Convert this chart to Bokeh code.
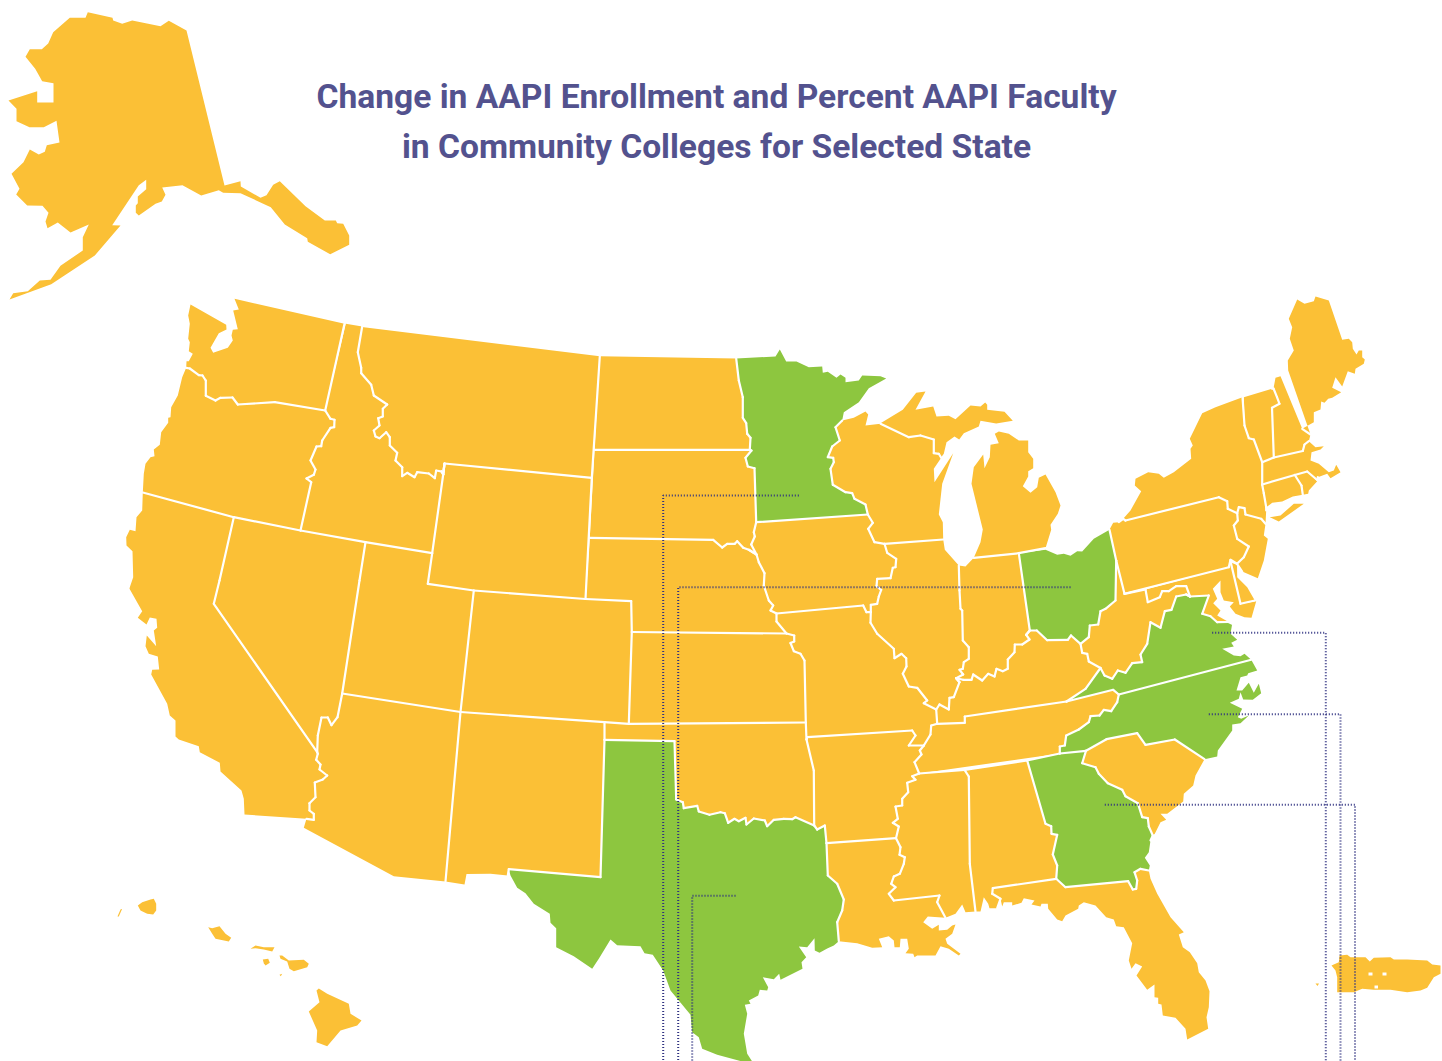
from bokeh.plotting import figure
from bokeh.models import Range1d
from bokeh.core.properties import value
from bokeh.embed import file_html
from bokeh.resources import INLINE
import math

TITLE_LINES = ["Change in AAPI Enrollment and Percent AAPI Faculty", "in Community Colleges for Selected State"]
TITLE_X = [716, 716]
TITLE_Y = [96, 146]

# ---------- shared borders ----------
b_WA_OR = [(185.7,367.3),(189.3,368),(198.3,374.7),(202,375),(205.3,380),(205.3,395.3),(215,400),(220,397.3),(232,397),(237.3,404),(274.3,401.7),(324.7,410)]
b_OR_ID = [(324.7,410),(330,418.3),(334,419.3),(333.7,426.7),(330,427.3),(321.7,440),(320.7,445.7),(316,446),(310,460),(315,469),(313.3,474.3),(306,478),(310.7,481.7),(300,530)]
b_ID_MT = [(361.7,326),(357.3,351.7),(360.7,367.3),(360.7,372.7),(370.7,384.3),(373.3,395),(386.7,404),(382.3,408.3),(382.3,416),(377.7,417.7),(379,425),(373.3,430),(375,436),(379,437.7),(385.7,431.7),(389.3,436.7),(389.3,445),(396.7,452.3),(395,460),(401.7,466.7),(401.7,475.7),(406.7,472.3),(414,476.7),(416.7,471.7),(428.3,473),(434.3,477.7),(435.7,470),(441,471),(442.7,474),(444,463)]
b_CA_AZ = [(316.7,751.7),(317.3,753.3),(315.7,759.3),(320,764),(319,769),(326.7,775),(322.3,779),(314.3,782),(315,796.7),(309,802.7),(309,810),(313.3,813.3),(313.3,819.3),(306,818.3)]
b_NV_AZ = [(341.7,693),(337,716.7),(331,724.7),(327.3,717),(321,717),(317.3,735),(316.7,751.7)]
b_ND_MN = [(735.7,358),(738.3,380),(742.3,396.7),(742.3,417.3),(745.7,422.7),(746.7,433.3),(750,437.3),(749.3,449.3)]
b_SD_MN = [(749.3,449.3),(751,450),(745,457.3),(747.3,466),(754,467.7),(755.7,521.7)]
b_SD_IA = [(755.7,521.7),(753.3,531.7),(754.3,536),(750.7,544),(756,554)]
b_SD_NE = [(756,554),(748.3,549.3),(742.7,547.3),(736.7,540.7),(734.3,543.3),(726.7,543.3),(721.7,547),(712.7,539.3),(589.3,537.3)]
b_NE_IA = [(756,554),(758.3,561.7),(764,572.7),(763.3,585),(768.3,600),(772.7,605),(770,610),(776,613)]
b_NE_MO = [(776,613),(776,621),(786,633)]
b_KS_MO = [(786,633),(793.7,635),(793.7,641),(790,642.5),(793.3,650.7),(800,653.3),(804,660),(805.3,722)]
b_OK_TX = [(813.7,825),(795,816.7),(791.7,818.7),(783.3,818.3),(773.3,819.3),(766.7,825.7),(764.3,820),(753.3,818),(746,824),(745,817.3),(738.3,820.7),(734,818.3),(727.7,822.3),(724.3,812.7),(720,811.7),(709,814.3),(698.3,811),(696.7,805.3),(683.3,807.7),(682.3,801.7),(675.7,799),(674,740.7),(604,739.3)]
b_AR_TX = [(824.3,825),(816.7,829),(813.7,825)]
b_OK_AR = [(813.7,825),(813.3,770),(806,739)]
b_TX_LA = [(826,842.7),(827.3,875),(836.7,883.3),(843.3,899),(841.7,910),(836.7,921.7),(838.3,940.7)]
b_MN_WI = [(841.7,420),(835,426.7),(839.3,440),(831.7,446),(827.3,456.7),(832.7,457.3),(833.3,461.7),(830,468.3),(832.3,484.3),(845,491.7),(851.7,492.7),(854,498.3),(865,504),(867.3,514)]
b_IA_WI = [(867.3,514),(872.3,522.3),(867.7,528.3),(874,541.7),(884,543.3)]
b_IA_IL = [(884,543.3),(886.7,552.3),(895.7,558.3),(895,566.7),(892.3,567.3),(890,577.7),(876.7,578.3),(876,585.7),(880.7,589.3),(878.3,596),(876.7,603.3),(870.3,604.3)]
b_IA_MO = [(870.3,604.3),(870.3,611.7),(866,611.7),(862.7,605),(776,613)]
b_IL_MO = [(870.3,611.7),(870,622.3),(876.7,633.3),(893.3,648.3),(894,657.7),(901,653.3),(905.7,657.7),(906,666),(902.3,673.3),(908.3,686),(916.7,687.3),(926.7,700),(923.3,702.7),(935.7,709)]
b_IL_KY = [(935.7,709),(939,704),(948.3,709),(949,697.3),(953.3,696.7),(959,681.7),(955.7,677.7)]
b_IL_IN = [(942.7,539),(944.3,549.3),(958.3,565),(959,590),(960,608.3),(961.7,610),(962.3,640),(968.3,646.7),(968.3,658.3),(963.3,661.7),(962.3,668.3),(959,669.3),(962.7,674),(955.7,677.7)]
b_IN_KY = [(955.7,677.7),(962.7,679.3),(971,679.3),(972.7,674),(981.7,680),(987.7,673.3),(994,676),(996,668.3),(1002.3,670.7),(1007.3,668.3),(1007.3,659),(1014,651.7),(1014.3,644),(1021.7,644),(1029,639),(1025.7,634.3),(1029.3,630)]
b_OH_KY = [(1029.3,630),(1036.3,630),(1046.7,639.7),(1067.3,639.3),(1070.5,635),(1080,643.3)]
b_MO_TN = [(935.7,709),(936.7,723.3),(930.7,725),(930,734),(923.3,745)]
b_MO_AR = [(923.3,745),(908.3,745),(915,735),(911.7,730),(806.7,736.7),(806,739)]
b_TN_AR = [(923.3,745),(919.3,750),(921,754),(914,761.7),(918.7,773)]
b_MS_AR = [(918.7,773),(911.7,775.7),(915,779.3),(906.7,782.3),(907.7,791.7),(901.7,798.3),(901.7,805),(895,806),(897.3,818.3),(892.3,822.3),(898.3,826),(895.5,837.7)]
b_MS_LA = [(895.5,837.7),(900,846.7),(899,854.3),(904.3,856.7),(903.3,863.3),(899.3,873.3),(893.3,876),(890.7,883.3),(895,886.7),(888.3,893.3),(893.3,900),(939,895),(936.7,901.7),(945,917.3)]
b_AL_GA = [(1026.7,760),(1045,823.3),(1050.7,825.7),(1051,833.3),(1056.7,834.3),(1052.3,854),(1056.7,865),(1055.7,878.3)]
b_GA_FL = [(1055.7,878.3),(1065,886.7),(1127.7,880.7),(1132.3,889),(1135.7,888.3),(1136.7,880),(1134,871.7),(1140,868.3),(1148.3,870)]
b_AL_FL = [(1055.7,878.3),(992.3,887.7),(991.7,893.3),(1000,898.3)]
b_GA_SC = [(1085.5,750.3),(1081.7,762.7),(1095,766.7),(1098.3,773.3),(1107.3,782.7),(1121.7,789.3),(1125,795.7),(1137.3,802.7),(1141.7,816.7),(1147.3,817.7),(1148.3,826),(1152.3,835)]
b_NC_SC = [(1085.5,750.3),(1106,738.7),(1136.7,732.7),(1145,744.3),(1174.3,739),(1204,758.7)]
b_TN_NC = [(1118.3,694),(1116.7,701.7),(1110.7,710.7),(1103.3,709.3),(1099,715),(1090,715.7),(1088.3,721.7),(1078.3,729),(1065.7,735),(1064.3,745),(1059.3,746),(1059.3,753)]
b_VA_TN = [(1066,701),(1112.7,689.3),(1118.3,694)]
b_KY_VA = [(1066,701),(1085,688.3),(1100,667.5)]
b_KY_WV = [(1100,667.5),(1088.3,661),(1086.7,653.3),(1081.7,652.3),(1080,643.3)]
b_OH_WV = [(1080,643.3),(1088.3,636.7),(1089.3,625),(1097.7,624),(1100,610.7),(1105,608.3),(1115,600),(1115.7,560)]
b_OH_PA = [(1115.7,560),(1109,529.3)]
b_VA_WV = [(1100,667.5),(1104,675),(1111.7,678.3),(1117.3,670),(1125,672.3),(1131.7,662.7),(1141.7,661.7),(1140,654),(1146.7,643.3),(1150,621.7),(1160,627.3),(1164.3,610.7),(1171,609.3),(1175.7,596),(1185.7,594),(1189.5,596)]
b_MD_WV = [(1145,589),(1147.3,601.7),(1159.3,596.7),(1161.7,590.7),(1168.3,590.7),(1175.7,585.7),(1185.7,585.7),(1189.5,596)]
b_MD_VA = [(1189.5,596),(1208.3,595),(1201.7,613.3),(1210,615.7),(1216.7,621.7),(1228,621.5)]
b_PA_NY = [(1125,520),(1218.3,496.7),(1226.7,500.7),(1227.3,508.3),(1236.7,512.7)]
b_PA_NJ = [(1236.7,512.7),(1237.3,520),(1233.3,525),(1236.7,538.3),(1248.3,546),(1243.3,556.7),(1236.5,563.3)]
b_NY_NJ = [(1236.7,512.7),(1238.3,506.7),(1244,507.7),(1245,514),(1260.7,518.3),(1265,523.3)]
b_NY_CT = [(1265.7,506.7),(1263.3,492.7),(1261.7,484.3)]
b_NY_MA = [(1261.7,484.3),(1261.7,461.7)]
b_NY_VT = [(1261.7,461.7),(1253.3,439),(1248.3,437.7),(1244,425),(1242,396.7)]
b_VT_NH = [(1273.3,457),(1271.5,407.3),(1279,403.3),(1276.5,396.7),(1273,388)]
b_NH_ME = [(1282,372),(1301.7,428.3),(1310,434)]
b_MA_NH = [(1308.3,440.7),(1304,444),(1302.3,450.5),(1273.3,457)]
b_MA_CT = [(1261.7,484),(1294.3,474.5)]

# ---------- states ----------
AK = [(87.3,11.7),(112,17.3),(112.7,20),(121.7,23.3),(131.7,20),(160,25.7),(168.3,20.3),(186,30),(224,185),(240,180.7),(240.3,186),(260,197.3),(266,194.7),(272.7,184.3),(279.3,180.7),(305,205.7),(324.3,220),(335.3,220),(336.7,222.7),(342.7,223.3),(348.7,235),(348.7,244.3),(329.7,253.7),(307.3,241.3),(306.7,237.7),(284.3,224),(270.3,206.7),(240,192.7),(222.7,192.3),(218.3,189.7),(200.7,195),(182,184.7),(161.7,187),(165,194.3),(161.3,201),(155,203.3),(138.3,215),(135.3,212.3),(135.3,205),(137.3,202.7),(137.3,196),(145.7,188.7),(145.7,179.3),(138.3,184.7),(111.7,224.7),(120,225),(94.3,255),(50.7,283.7),(9,299),(12.7,292.7),(27.3,290.7),(39.3,280),(50,279.3),(60,265.3),(82.3,250),(82.3,236.7),(88.3,224),(70,232),(57.3,222),(47,227.7),(45,221),(48,212.3),(42,205.3),(26.7,205),(15.7,194),(19,188.3),(11,173.3),(23,161.7),(29.3,149),(38.3,154),(44.3,151.3),(46.3,144.7),(59,142),(56,120.3),(43.3,126.7),(29,126.7),(16,120.7),(16,108.3),(8,100),(36.7,90.7),(36.7,102),(53,102),(53,82.7),(41.7,80.7),(34.7,68.3),(25,56.3),(29.3,48.7),(41.3,48.7),(47.7,43),(52.7,31.7),(69.3,17.3),(85,17.3)]
WA = [(234,298.3),(344,323.3)] + b_WA_OR[::-1] + [(186,360.7),(188.3,360.7),(192.3,353.3),(188.3,350.7),(189.3,341.7),(187.7,338.3),(189.3,323.3),(187.7,315),(190,304),(225.7,324.3),(226,329),(218.3,332.7),(210,347.3),(212.7,352.3),(227.3,347.3),(232.3,340),(231,335),(232.3,329.3),(237.3,328.7),(232.7,310),(238.3,309)]
OR = b_WA_OR + b_OR_ID[1:] + [(233.3,516.7),(142.3,492),(143.3,473.3),(145,463.3),(150,456.7),(154,455.7),(153.3,449),(159.3,444.3),(160.7,431.7),(167.7,422.3),(167.7,417.3),(170,416.7),(170.7,406.7),(177.3,395),(181.7,376.7)]
ID = [(345.3,323.3)] + b_ID_MT + [(442.7,474),(431.7,552.7),(365,541.7),(300,530)] + b_OR_ID[::-1]
MT = [(363.3,326.7),(599.3,355.7),(591.3,477.3)] + b_ID_MT[::-1]
CA = [(142.3,492),(233.3,516.7),(219,580),(213.3,603.3)] + b_CA_AZ + [(244,814),(243.3,798.3),(241,790),(220,771),(219.3,762.3),(199.3,751.7),(198.3,745.7),(178.3,739),(175,736),(175,720),(169.3,715),(166.7,703.3),(150.7,674),(151.7,669.3),(158.7,669),(157.3,656),(148.3,653.3),(145,645.7),(146.3,635),(155.7,645.7),(153.3,630),(156.7,627.3),(156,618.3),(149.3,617),(146,624),(137.3,617.3),(141.7,610.7),(129,588.3),(129.3,586.7),(132.7,576.7),(132,550.7),(126,545),(125.7,536.7),(129.3,529.3),(135,530.7),(136,516.7),(141.7,510)]
NV = [(233.3,516.7),(300,530),(365,541.7),(359,580)] + b_NV_AZ + [(213.3,603.3),(219,580)]
AZ = [(341.7,693),(460,711.5),(445,881),(393.3,875.7),(303.3,827.3),(306,818.3)] + b_CA_AZ[::-1][1:] + b_NV_AZ[::-1][1:]
UT = [(365,541.7),(431.7,552.7),(427.3,583.3),(473.3,590),(460,711.5),(341.7,693)]
WY = [(444,463),(591.3,477.3),(585,598.5),(473.3,590),(427.3,583.3)]
CO = [(473.3,590),(585,598.5),(630.7,600.7),(631.3,631.5),(628.3,723.3),(604,721.7),(460,711.5)]
NM = [(460,711.5),(604,721.7),(604,739.3),(600,876.7),(508.3,868.7),(507.3,875),(490,873.3),(466,873.5),(464,884),(445,881)]
ND = [(599.3,355.7)] + b_ND_MN + [(594,449.3)]
SD = [(594,449.3)] + b_SD_MN + b_SD_IA[1:] + b_SD_NE[1:]
NE = [(589.3,537.3)] + b_SD_NE[::-1][1:] + b_NE_IA[1:] + b_NE_MO[1:] + [(631.3,631.5),(630.7,600.7),(585,598.5)]
KS = [(631.3,631.5)] + b_KS_MO + [(628.3,723.3)]
OK = [(604,721.7),(628.3,723.3),(805.3,722),(806,739)] + b_OK_AR[::-1][1:] + b_OK_TX[1:]
TX = b_OK_TX[::-1] + b_AR_TX[::-1][1:] + b_TX_LA + [(833.3,945),(826.7,948),(819,952.3),(814.3,950),(814,937.7),(806.7,946.7),(798.3,946),(805.7,956.7),(801,961.7),(802,968.3),(780,979.3),(778.7,973.3),(773.3,978.7),(762.3,976.7),(767.7,986.7),(766.7,990),(759.3,989.3),(757.7,995),(748.3,1000),(750,1003.3),(744.3,1004.3),(746.7,1013.3),(743.3,1033.3),(746.7,1053.3),(751.7,1061),(741.7,1061),(716.7,1054.3),(701.7,1048.3),(698.3,1036.7),(691.7,1031.7),(690,1014.3),(670,990),(662.7,970),(652.3,954.3),(644,952.7),(640,945.7),(616.7,944.7),(610,939),(598.3,958.3),(591.7,968.3),(573.3,955.7),(555.7,946.7),(555.7,927.7),(550,922.3),(549.3,913.3),(533.3,903.3),(525,892.7),(516.7,887.3),(510,875),(508.3,868.7),(600,876.7)]
MN = b_ND_MN + b_SD_MN[1:] + [(867.3,514)] + b_MN_WI[::-1][1:] + [(843.3,411.7),(858.3,401.7),(868.3,387.7),(885.7,378),(880,375.7),(861.7,375),(858.3,380),(845,381.7),(845,377.3),(840,374),(836,377.3),(827.3,371.3),(822.3,372.3),(821.7,366),(808.3,366.7),(796,361),(785.7,361),(779.3,349),(775,356)]
WI = b_MN_WI + b_IA_WI[1:] + [(942.7,539),(942.3,521.7),(938.3,514),(941.7,483.3),(952.7,452.7),(934,481.7),(933.3,468.3),(940.7,457.3),(938.3,453.3),(933.3,452.7),(933.3,439),(920,435),(908.3,436.7),(880,423.3),(865,425),(867.7,414),(865,411),(853.3,417.3)]
MI_UP = [(880,422.7),(902.3,409.3),(915.7,392.3),(925,391),(915,409.3),(932.7,406),(936,416),(948.3,415.3),(955,418.7),(970,405),(980,406),(984.7,402),(986.7,404.3),(986.7,409.3),(1004,411.3),(1012.3,420.3),(995.7,423),(980,420.3),(978.3,426),(963.3,432.7),(958.7,439),(954,436),(946,441.7),(943.3,453.3),(940.7,456.7),(938.3,453.3),(933.3,452.7),(933.3,439),(920,435),(908.3,436.7)]
MI_LP = [(998.3,431),(1008.3,433.3),(1018.3,440),(1027.7,440),(1027.7,451.7),(1032.7,458.3),(1032.7,467.7),(1027.7,470.7),(1027.7,476),(1022.3,485.7),(1030,492.3),(1036.7,486.7),(1038.3,477.3),(1045,474),(1055,491.7),(1060,505),(1057.3,513.3),(1050,524.3),(1050.7,529.3),(1045,547.7),(1018.3,552.7),(973.3,557.3),(980,541.7),(982.3,529),(971,483.3),(973.3,466.7),(982.7,454),(984,467.7),(989.3,456.7),(990,444.3),(998.3,442.7),(994.3,433.3)]
IA = [(755.7,521.7),(867.3,514)] + b_IA_WI[1:] + b_IA_IL[1:] + b_IA_MO[1:] + b_NE_IA[::-1][1:] + b_SD_IA[::-1][1:]
IL = [(884,543.3)] + b_IL_IN + b_IL_KY[::-1][1:] + b_IL_MO[::-1][1:] + b_IA_IL[::-1]
MO = b_IA_MO[::-1][:-1] + b_IL_MO[1:] + b_MO_TN[1:] + b_MO_AR[1:] + b_KS_MO[::-1] + b_NE_MO[::-1][1:]
AR = b_MO_AR[::-1][1:] + b_TN_AR + b_MS_AR[1:] + [(826,842.7)] + b_AR_TX + b_OK_AR[1:]
LA = [(826,842.7)] + b_MS_AR[-1:] + b_MS_LA[1:] + [(927.3,916),(922.7,921.7),(931.7,928.3),(938.3,924.3),(938.3,930),(946.7,929.3),(951.7,925),(955,924),(951.7,933.3),(945,938.3),(946.7,943.3),(960,953.3),(958.3,955),(948.3,948.3),(940,945.7),(935,955),(916.7,955),(914,956.7),(912.7,953.3),(905,952.7),(908.3,948.3),(906.7,938.3),(900,938.3),(899.3,946.7),(894,946.7),(893.3,940),(888.3,935.7),(878.3,938.3),(881.7,946.7),(871.7,947.3),(856.7,942.7)] + b_TX_LA[::-1]
MS = [(964,769.3),(968.3,776),(969.3,863.3),(975,911),(965,911.7),(961.7,904),(955,913.3)] + b_MS_LA[::-1] + b_MS_AR[::-1][1:]
AL = [(964,769.3),(1026.7,760)] + b_AL_GA[1:] + b_AL_FL[1:] + [(996.7,907.7),(989,907.7),(987.7,903.3),(983.3,896.7),(980,911),(975,911),(969.3,863.3),(968.3,776)]
FL = b_AL_FL[::-1] + b_GA_FL[1:] + [(1150,878.3),(1156.7,893.3),(1170,916.7),(1183.3,931.7),(1178.3,934),(1182.3,946.7),(1189.3,951.7),(1196.7,962.7),(1198.3,971.7),(1205,980),(1209,990.7),(1208.3,1006.7),(1206,1016.7),(1207.7,1028.3),(1186.7,1039),(1185,1028.3),(1175,1017.3),(1162.3,1015),(1161,1004),(1157.7,1003.3),(1157.7,997.3),(1154,996.7),(1154,984),(1146.7,989.3),(1136,975),(1141.7,966),(1135,962.7),(1131,968.3),(1128.3,960),(1131.7,942.7),(1123.3,926.7),(1115.7,925.7),(1113.3,919),(1105.7,916.7),(1095,905),(1083.3,901.7),(1078.3,905),(1077.7,908.3),(1065,915),(1061.7,920.7),(1056.7,919),(1047.7,908.3),(1047.3,903.3),(1041,903.3),(1040,906),(1031,904),(1034,900),(1023.3,897.7),(1021,902.3),(1011.7,905),(1011.7,901.7),(1003.3,901.7),(1001.7,906)]
GA = [(1026.7,760),(1059.3,753),(1085.5,750.3)] + b_GA_SC[1:] + [(1150,840),(1148.3,851.7),(1144.3,857.3),(1149.3,865)] + b_GA_FL[::-1][:-1] + b_AL_GA[::-1]
SC = b_NC_SC + [(1195,775),(1192.7,785),(1183.3,793.3),(1182.7,801),(1166.7,813.3),(1160,813.3),(1165.7,819.3),(1160,821.7),(1154.3,833.3)] + b_GA_SC[::-1]
NC = b_TN_NC[::-1][:-1] + [(1118.3,694),(1250.7,659.3),(1256.7,670),(1247.7,672.7),(1246.7,675),(1240,676.7),(1236,690),(1241.7,690),(1248.3,682.3),(1253.3,692.3),(1258.3,683.3),(1260.7,692.7),(1252.3,699.3),(1242.7,699),(1240,691.7),(1238.3,698.3),(1229.3,702.3),(1241.7,708.3),(1237.3,716.7),(1240.7,718.3),(1248.3,715),(1240,722.7),(1231.7,724),(1231.7,730),(1217.3,750),(1216.7,756)] + b_NC_SC[::-1] + [(1059.3,753)]
VA = b_VA_TN + [(1250.7,659.3),(1244,653.3),(1240,655.7),(1233.3,655),(1221.7,648.3),(1233.3,646),(1230.7,642.3),(1236.7,639.3),(1230,633.3),(1231.7,623.3)] + b_MD_VA[::-1] + b_VA_WV[::-1][1:] + b_KY_VA[::-1][1:]
KY = b_IN_KY + b_OH_KY[1:] + b_KY_WV[::-1][1:] + b_KY_VA[::-1][1:] + [(964.3,716),(964.3,722.3),(936.7,723.3),(935.7,709)] + b_IL_KY[1:]
TN = [(930.7,725),(936.7,723.3),(964.3,722.3),(964.3,716),(1066,701)] + b_VA_TN[1:] + b_TN_NC[1:] + [(918.7,773)] + b_TN_AR[::-1][1:] + [(930,734)]
IN = [(973.3,557.3),(1018.3,552.7),(1029.3,630)] + b_IN_KY[::-1][1:] + b_IL_IN[::-1][1:-2] + [(965,566)]
OH = [(1018.3,552.7),(1045,549.3),(1056.7,554.3),(1063.3,553.3),(1070,555.3),(1076.7,550.7),(1081.7,551),(1093.3,538.3),(1109,529.3),(1115.7,560)] + b_OH_WV[::-1][1:] + b_OH_KY[::-1][1:]
WV = [(1115.7,560),(1124,593.3),(1145,589)] + b_MD_WV[1:] + b_VA_WV[::-1][1:] + b_KY_WV[1:] + b_OH_WV[1:]
PA = [(1109,529.3),(1110,527.3),(1112.7,522.3),(1118.3,521.7),(1122.7,518.3)] + b_PA_NY + b_PA_NJ[1:] + [(1230,559.3),(1228.3,566.7),(1124,593.3),(1115.7,560)]
NY = b_PA_NY + b_NY_NJ[1:] + [(1265.7,510)] + b_NY_CT + b_NY_MA[1:] + b_NY_VT[1:] + [(1215,406.7),(1201.7,412.7),(1189.3,438.3),(1192.3,445),(1190,448.3),(1190.7,458.3),(1173.3,471.7),(1163.3,477.3),(1158.3,473.3),(1147.7,471.7),(1135,478.3),(1134.3,485),(1140.7,490.7),(1130,510),(1122.7,518.3)]
LONG_ISLAND = [(1269.3,516.7),(1278.3,521),(1303.3,503.3),(1293.3,503.3),(1280,515)]
VT = [(1243.3,396.7),(1271.7,388.3)] + b_VT_NH[::-1] + [(1261.7,461.7)] + b_NY_VT[1:-1]
NH = [(1275,377.3),(1280,375.7)] + b_NH_ME[1:] + b_MA_NH + b_VT_NH[1:]
ME = b_NH_ME[::-1][:-1] + [(1313.3,421.7),(1313.3,411.7),(1320,409),(1320.7,401),(1324,402.3),(1327.7,398.3),(1331.7,397.3),(1340.7,391.7),(1331.7,387.3),(1335,376.7),(1341.7,386),(1347.3,370.7),(1354.3,373.3),(1355,368.3),(1363.3,363.3),(1364.3,359),(1361.7,356.7),(1361.7,350),(1358.3,350),(1356,354),(1352.3,348.3),(1351.7,341.7),(1348.3,338.3),(1341.7,339.3),(1328.3,300),(1315,296),(1313.3,300.7),(1304,303.3),(1296.7,299),(1288.3,318.3),(1291.7,326.7),(1289.3,338.3),(1293.3,350),(1287.3,360),(1287.7,370)]
MA = [(1261.7,461.7)] + b_MA_NH[::-1][:-1] + [(1308.3,440.7),(1315,446.7),(1323.3,445.7),(1320,449),(1311,451.7),(1310,460),(1318.3,463.3),(1328.3,471.7),(1333.3,470),(1335.7,464.3),(1340,471.7),(1330,477.7),(1326.7,473.3),(1317.3,476.7),(1317.3,480),(1306.7,471),(1294.3,474.5),(1261.7,484)]
CT = [(1261.7,484.3),(1294.3,474.5),(1301,485),(1302.3,494.3),(1292.3,496),(1281.7,501),(1271.7,502.3),(1265.7,506.7),(1263.3,492.7)]
RI = [(1294.3,474.5),(1306.7,471),(1316.7,480.7),(1308.3,490),(1307.7,493.3),(1302.3,494.3),(1301,485)]
NJ = b_NY_NJ + [(1263.3,535),(1267.3,538.3),(1263.3,560),(1257.3,577.7),(1241.7,571),(1236.5,563.3)] + b_PA_NJ[::-1][1:]
DE = [(1230,560.7),(1236.5,563.3),(1236.7,576.7),(1246.7,586.7),(1254.3,600),(1240,603.3)]
MD = [(1145,589),(1228.3,566.7),(1230,560.7),(1240,603.3),(1255.7,600.7),(1251,617.3),(1244,616.7),(1235,613.3),(1229.3,606),(1233.3,601.7),(1223.3,600),(1220,591.7),(1220,580),(1212.3,588.3),(1216.7,598.3),(1212.7,602.7),(1220,610),(1216.7,615)] + b_MD_VA[::-1] + b_MD_WV[::-1][1:]
HI_NIIHAU = [(120,909),(121.7,908.3),(118.3,916),(117,916)]
HI_KAUAI = [(137.3,905),(141.7,901.7),(150,899),(153.3,898.3),(155.7,903.3),(155.7,910),(152.7,914),(146.7,913.3),(140,910)]
HI_OAHU = [(207.7,926.7),(211.7,927.7),(219,925.7),(225,933.3),(230.7,937.3),(228.3,941),(215,938.3),(211.7,933.3)]
HI_MOLOKAI = [(250,948.3),(255,945),(263.3,946.7),(274,946.7),(271.7,951),(263.3,949),(255,947.7)]
HI_LANAI = [(262.3,959),(267.7,958.3),(269.3,962.3),(265,965),(263.3,962.7)]
HI_MAUI = [(279,955),(281.7,955),(288.3,960),(303.3,959.3),(308.3,963.3),(306.7,966.7),(293.3,970.7),(289,968.3),(286.7,961),(280,958.3)]
HI_KAHOOLAWE = [(279,974.3),(281.7,973.3),(280.3,975.7)]
HI_BIG = [(316,990),(318.3,988),(326.7,993.3),(348.3,1003.3),(350,1013.3),(361,1020),(356.7,1025),(340,1030),(326.7,1045.7),(316,1041.7),(316.7,1030),(308.3,1011),(319,1001.7)]
PR = [(1331,965),(1338.3,961.7),(1339,955),(1346.7,954.3),(1350,956.7),(1365,956.7),(1369.3,961),(1373.3,957.3),(1390,956.7),(1393.3,959),(1406.7,959),(1426.7,960),(1431.7,964),(1440,965),(1440,973.3),(1433.3,976.7),(1426.7,987.3),(1420,990),(1406.7,991.7),(1390,989.3),(1373.3,989.3),(1361.7,988.3),(1353.3,991.7),(1336.7,991.7),(1336.7,976.7),(1335,970)]
PR_DOT = [(1315,983),(1318.5,983),(1317,985.5)]
PR_HOLES = [[(1368,972),(1372,972),(1372,975),(1368,975)], [(1382,972),(1386,972),(1386,975),(1382,975)], [(1374,985),(1377.5,985),(1377.5,988),(1374,988)]]

STATE_NAMES = ["AK","WA","OR","ID","MT","CA","NV","AZ","UT","WY","CO","NM","ND","SD","NE","KS","OK","TX","MN","WI","MI_UP","MI_LP","IA","IL","MO","AR","LA","MS","AL","FL","GA","SC","NC","VA","KY","TN","IN","OH","WV","PA","NY","LONG_ISLAND","VT","NH","ME","MA","CT","RI","NJ","DE","MD","HI_NIIHAU","HI_KAUAI","HI_OAHU","HI_MOLOKAI","HI_LANAI","HI_MAUI","HI_KAHOOLAWE","HI_BIG","PR","PR_DOT"]
GREEN_STATES = ["MN","TX","OH","VA","NC","GA"]

# dotted leader lines
LEAD_X = [[798.3,662.7,662.7],[1070,677.7,677.7],[735,691.7,691.7],[1211.7,1325.3,1325.3],[1208.3,1340,1340],[1104.3,1354.5,1354.5]]
LEAD_Y = [[495,495,1061],[586.7,586.7,1061],[895.3,895.3,1061],[632.3,632.3,1061],[713.7,713.7,1061],[804.3,804.3,1061]]

YELLOW = "#fbc036"
GREEN = "#8dc63f"
LEADER = "#2f3180"
TITLE_COLOR = "#53528e"

polys = [globals()[n] for n in STATE_NAMES]

def seg_dist(p, a, b):
    dx, dy = b[0]-a[0], b[1]-a[1]
    d = dx*dx + dy*dy
    t = 0 if d == 0 else max(0, min(1, ((p[0]-a[0])*dx + (p[1]-a[1])*dy) / d))
    return math.hypot(p[0]-a[0]-t*dx, p[1]-a[1]-t*dy)

def poly_dist(p, poly):
    return min(seg_dist(p, poly[i], poly[(i+1) % len(poly)]) for i in range(len(poly)))

# a polygon edge is an inner border when a later polygon runs along it
border_xs, border_ys = [], []
for i, poly in enumerate(polys):
    for k in range(len(poly)):
        a, b = poly[k], poly[(k+1) % len(poly)]
        mid = ((a[0]+b[0])/2, (a[1]+b[1])/2)
        if any(poly_dist(mid, polys[j]) < 3.0 for j in range(i+1, len(polys))):
            border_xs.append([a[0], b[0]])
            border_ys.append([a[1], b[1]])

p = figure(width=1442, height=1061, x_range=Range1d(0, 1442), y_range=Range1d(1061, 0),
           toolbar_location=None, output_backend="svg", min_border=0)
p.axis.visible = False
p.grid.visible = False
p.outline_line_color = None
p.background_fill_color = "white"

p.patches([[q[0] for q in poly] for poly in polys], [[q[1] for q in poly] for poly in polys],
          fill_color=[GREEN if n in GREEN_STATES else YELLOW for n in STATE_NAMES],
          line_color=None)
p.patches([[q[0] for q in h] for h in PR_HOLES], [[q[1] for q in h] for h in PR_HOLES],
          fill_color="white", line_color=None)
p.multi_line(border_xs, border_ys, line_color="white", line_width=2.2, line_cap="round", line_join="round")
p.multi_line(LEAD_X, LEAD_Y, line_color=LEADER, line_width=2, line_dash="1 2")
p.text(TITLE_X, TITLE_Y, TITLE_LINES, text_align="center", text_baseline="middle",
       text_color=TITLE_COLOR, text_font=value("Roboto"), text_font_style="bold",
       text_font_size="33.6px")

open("out.html", "w").write(file_html(p, INLINE))
